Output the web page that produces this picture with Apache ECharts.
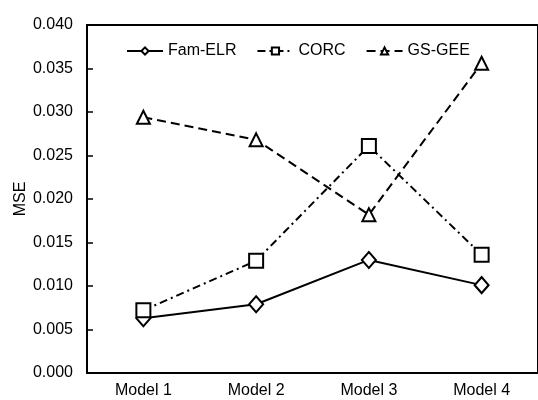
<!DOCTYPE html>
<html><head><meta charset="utf-8">
<script src="https://cdn.jsdelivr.net/npm/echarts@6/dist/echarts.min.js"></script>
<style>html,body{margin:0;padding:0;background:#fff}#c{width:538px;height:400px}</style>
</head><body><div id="c"></div>
<script>
const categories = ['Model 1', 'Model 2', 'Model 3', 'Model 4'];
const famELR = [0.0063, 0.0079, 0.0130, 0.0101];
const corc = [0.0072, 0.0129, 0.0261, 0.0136];
const gsGEE = [0.0294, 0.0268, 0.0182, 0.0356];
const yTicks = { min: 0, max: 0.04, interval: 0.005 };

const font = 'Liberation Sans, Arial, sans-serif';
const chart = echarts.init(document.getElementById('c'), null, { renderer: 'canvas' });
function ser(name, data, symbol, size, lineType) {
  return {
    name, type: 'line', data, symbol, symbolSize: size,
    lineStyle: { color: '#000', width: 2, type: lineType },
    itemStyle: { color: '#fff', borderColor: '#000', borderWidth: 2 },
    z: 3
  };
}
chart.setOption({
  animation: false,
  backgroundColor: '#fff',
  grid: { left: 87, top: 25, width: 452, height: 348, show: true, borderColor: '#000', borderWidth: 2 },
  legend: {
    left: 121, top: 38, itemWidth: 36, itemHeight: 9, itemGap: 20,
    textStyle: { fontFamily: font, fontSize: 16, color: '#000' },
    data: ['Fam-ELR', 'CORC', 'GS-GEE']
  },
  xAxis: {
    type: 'category', data: categories, boundaryGap: true,
    axisLine: { lineStyle: { color: '#000', width: 2 } },
    axisTick: { inside: true, length: 6, lineStyle: { color: '#000', width: 1.5 } },
    axisLabel: { color: '#000', fontFamily: font, fontSize: 16, margin: 10 }
  },
  yAxis: {
    type: 'value', min: yTicks.min, max: yTicks.max, interval: yTicks.interval,
    name: 'MSE', nameLocation: 'middle', nameGap: 58, nameMoveOverlap: false,
    nameTextStyle: { color: '#000', fontFamily: font, fontSize: 16 },
    axisLine: { show: true, lineStyle: { color: '#000', width: 2 } },
    axisTick: { show: true, inside: true, length: 6, lineStyle: { color: '#000', width: 1.5 } },
    splitLine: { show: false },
    axisLabel: { color: '#000', fontFamily: font, fontSize: 16, margin: 14, formatter: v => v.toFixed(3) }
  },
  series: [
    ser('Fam-ELR', famELR, 'diamond', [14, 16], 'solid'),
    ser('CORC', corc, 'rect', 14, [8, 4, 2, 4]),
    ser('GS-GEE', gsGEE, 'triangle', 13, [9, 5])
  ]
});
</script></body></html>
